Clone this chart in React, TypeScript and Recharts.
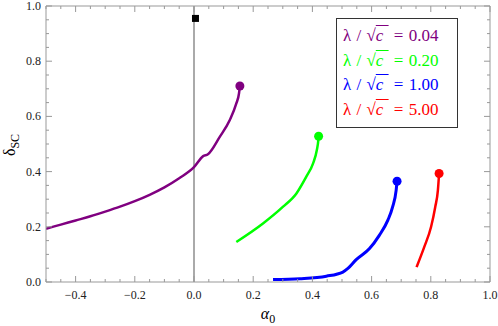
import { ComposedChart, Line, Scatter, XAxis, YAxis, ReferenceLine } from 'recharts';

// curve samples (alpha0, deltaSC)
const purpleX = [-0.5, -0.45, -0.4, -0.35, -0.3, -0.25, -0.2, -0.15, -0.1, -0.05, 0.0, 0.031, 0.047, 0.087, 0.121, 0.143, 0.152, 0.155];
const purpleY = [0.193, 0.208, 0.223, 0.238, 0.255, 0.273, 0.293, 0.316, 0.343, 0.376, 0.416, 0.456, 0.463, 0.526, 0.587, 0.647, 0.683, 0.71];

const greenX = [0.143, 0.233, 0.3, 0.346, 0.379, 0.402, 0.415, 0.42, 0.421];
const greenY = [0.145, 0.212, 0.272, 0.321, 0.381, 0.429, 0.478, 0.514, 0.528];

const blueX = [0.267, 0.357, 0.447, 0.503, 0.52, 0.548, 0.593, 0.626, 0.655, 0.671, 0.683, 0.686];
const blueY = [0.009, 0.012, 0.021, 0.036, 0.049, 0.081, 0.121, 0.169, 0.224, 0.272, 0.333, 0.365];

const redX = [0.752, 0.778, 0.801, 0.815, 0.824, 0.828];
const redY = [0.054, 0.127, 0.2, 0.272, 0.333, 0.393];

const squarePoint = [{ x: 0.005, y: 0.955 }];

const legendLabels = ['0.04', '0.20', '1.00', '5.00'];
const colors = ['#800080', '#00ff00', '#0000ff', '#ff0000'];

const xTicks = [-0.5, -0.45, -0.4, -0.35, -0.3, -0.25, -0.2, -0.15, -0.1, -0.05, 0, 0.05, 0.1, 0.15, 0.2, 0.25, 0.3, 0.35, 0.4, 0.45, 0.5, 0.55, 0.6, 0.65, 0.7, 0.75, 0.8, 0.85, 0.9, 0.95, 1.0];
const yTicks = [0, 0.05, 0.1, 0.15, 0.2, 0.25, 0.3, 0.35, 0.4, 0.45, 0.5, 0.55, 0.6, 0.65, 0.7, 0.75, 0.8, 0.85, 0.9, 0.95, 1.0];

const zip = (xs: number[], ys: number[]) => xs.map((x, i) => ({ x, y: ys[i] }));
const series = [zip(purpleX, purpleY), zip(greenX, greenY), zip(blueX, blueY), zip(redX, redY)];

const FONT = '"Liberation Serif", "Times New Roman", serif';
const FRAME = '#999';

const isMajor = (v: number) => Math.abs(Math.round(v * 100) % 20) === 0;
const fmt = (v: number) => v.toFixed(1).replace('-', '\u2212');

const BottomTick = ({ x, y, payload }: any) => {
  const major = isMajor(payload.value);
  return (
    <g>
      <line x1={x} x2={x} y1={y} y2={y - (major ? 6 : 3)} stroke={FRAME} />
      {major && (
        <text x={x} y={y + 17} textAnchor="middle" fontFamily={FONT} fontSize={12} fill="#222">
          {fmt(payload.value)}
        </text>
      )}
    </g>
  );
};

const TopTick = ({ x, y, payload }: any) => {
  const major = isMajor(payload.value);
  return <line x1={x} x2={x} y1={y} y2={y + (major ? 6 : 3)} stroke={FRAME} />;
};

const LeftTick = ({ x, y, payload }: any) => {
  const major = isMajor(payload.value);
  return (
    <g>
      <line x1={x} x2={x + (major ? 6 : 3)} y1={y} y2={y} stroke={FRAME} />
      {major && (
        <text x={x - 5} y={y + 4} textAnchor="end" fontFamily={FONT} fontSize={12} fill="#222">
          {fmt(payload.value)}
        </text>
      )}
    </g>
  );
};

const RightTick = ({ x, y, payload }: any) => {
  const major = isMajor(payload.value);
  return <line x1={x} x2={x - (major ? 6 : 3)} y1={y} y2={y} stroke={FRAME} />;
};

const endDot = (color: string, last: number) => (p: any) =>
  p.index === last ? (
    <circle key={`d${p.index}`} cx={p.cx} cy={p.cy} r={4.5} fill={color} />
  ) : (
    <g key={`d${p.index}`} />
  );

const SquareShape = ({ cx, cy }: any) => <rect x={cx - 3.5} y={cy - 3.5} width={7} height={7} fill="#000" />;

export default function App() {
  return (
    <div style={{ position: 'absolute', left: 0, top: 0, width: 498, height: 326, background: '#fff' }}>
      <ComposedChart width={498} height={326} margin={{ top: 5, right: 7, bottom: 14, left: 6 }}>
        <XAxis
          type="number"
          dataKey="x"
          domain={[-0.5, 1]}
          ticks={xTicks}
          interval={0}
          height={30}
          tickSize={0}
          tickMargin={0}
          tickLine={false}
          axisLine={{ stroke: FRAME }}
          tick={<BottomTick />}
          allowDataOverflow
        />
        <XAxis
          xAxisId="top"
          orientation="top"
          type="number"
          dataKey="x"
          domain={[-0.5, 1]}
          ticks={xTicks}
          interval={0}
          height={1}
          tickSize={0}
          tickMargin={0}
          tickLine={false}
          axisLine={{ stroke: FRAME }}
          tick={<TopTick />}
          allowDataOverflow
        />
        <YAxis
          type="number"
          domain={[0, 1]}
          ticks={yTicks}
          interval={0}
          width={40}
          tickSize={0}
          tickMargin={0}
          tickLine={false}
          axisLine={{ stroke: FRAME }}
          tick={<LeftTick />}
          allowDataOverflow
        />
        <YAxis
          yAxisId="right"
          orientation="right"
          type="number"
          domain={[0, 1]}
          ticks={yTicks}
          interval={0}
          width={1}
          tickSize={0}
          tickMargin={0}
          tickLine={false}
          axisLine={{ stroke: FRAME }}
          tick={<RightTick />}
          allowDataOverflow
        />
        <ReferenceLine x={0} stroke="#aaa" strokeWidth={2} />
        {series.map((d, i) => (
          <Line
            key={i}
            data={d}
            dataKey="y"
            type="monotone"
            stroke={colors[i]}
            strokeWidth={i === 2 ? 3 : 2.5}
            dot={endDot(colors[i], d.length - 1)}
            activeDot={false}
            isAnimationActive={false}
          />
        ))}
        <Scatter data={squarePoint} dataKey="y" shape={<SquareShape />} isAnimationActive={false} />
      </ComposedChart>

      <div
        style={{
          position: 'absolute',
          left: 336,
          top: 18,
          width: 122,
          height: 110,
          border: '1px solid #333',
          background: '#fff',
          fontFamily: FONT,
          fontSize: 17,
          lineHeight: '24.7px',
          paddingTop: 5,
          paddingLeft: 6,
          boxSizing: 'border-box',
          whiteSpace: 'nowrap',
        }}
      >
        {legendLabels.map((l, i) => (
          <div key={l} style={{ color: colors[i], wordSpacing: 1 }}>
            {'\u03bb / \u221a'}
            <span style={{ fontStyle: 'italic', textDecoration: 'overline' }}>c&nbsp;</span>
            {` = ${l}`}
          </div>
        ))}
      </div>

      <div
        style={{
          position: 'absolute',
          left: 12,
          top: 145,
          transform: 'translate(-50%, -50%) rotate(-90deg)',
          fontFamily: FONT,
          fontSize: 16,
          whiteSpace: 'nowrap',
        }}
      >
        {'\u03b4'}
        <sub style={{ fontSize: 12 }}>SC</sub>
      </div>
      <div
        style={{
          position: 'absolute',
          left: 268,
          top: 316,
          transform: 'translate(-50%, -50%)',
          fontFamily: FONT,
          fontSize: 16,
          fontStyle: 'italic',
          whiteSpace: 'nowrap',
        }}
      >
        {'\u03b1'}
        <sub style={{ fontSize: 12, fontStyle: 'normal' }}>0</sub>
      </div>
    </div>
  );
}
